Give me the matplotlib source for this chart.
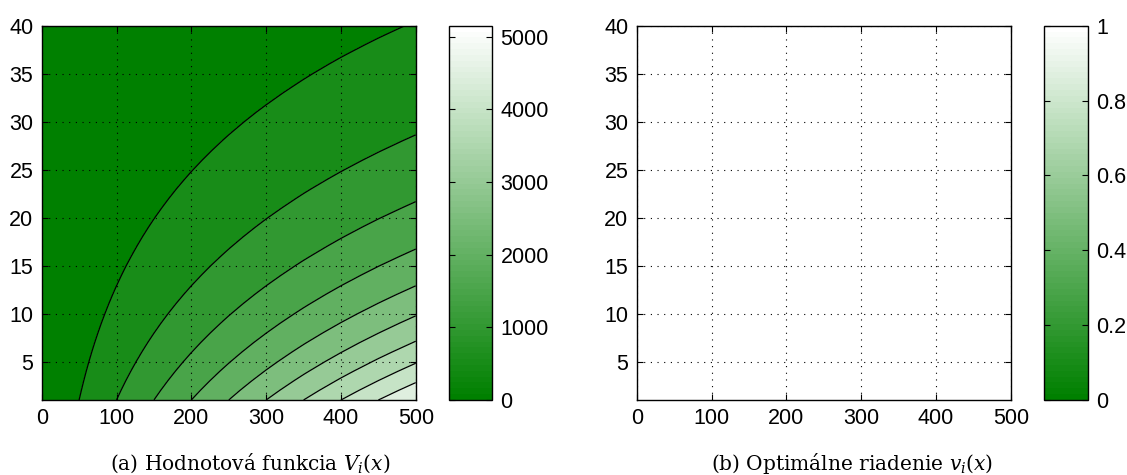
import numpy as np
import matplotlib
matplotlib.use('Agg')
import matplotlib.pyplot as plt
from matplotlib.colors import LinearSegmentedColormap, Normalize
from matplotlib.cm import ScalarMappable

# grid of the state x and the stage index i
x = [0, 50, 100, 150, 200, 250, 300, 350, 400, 450, 500]
stages = list(range(1, 41))

# value function along the first stage (i = 1)
v_first = [0, 500, 1000, 1500, 2000, 2500, 3000, 3500, 4000, 4500, 5000]
# value function at x = 500 for every stage i = 1..40
v_edge = [5000, 4717, 4450, 4198, 3960, 3736, 3525, 3325, 3137, 2959,
          2792, 2634, 2485, 2344, 2212, 2086, 1968, 1857, 1752, 1653,
          1559, 1471, 1388, 1309, 1235, 1165, 1099, 1037, 978, 923,
          871, 821, 775, 731, 690, 651, 614, 579, 546, 515]
# optimal control, equal to 1 on the whole grid
v_control = [1.0] * len(stages)

levels = [0, 500, 1000, 1500, 2000, 2500, 3000, 3500, 4000, 4500, 5000, 5150]
cbar_ticks_a = [0, 1000, 2000, 3000, 4000, 5000]
cbar_ticks_b = [0, 0.2, 0.4, 0.6, 0.8, 1]

# separable surface V[i, x]
V = np.outer(np.array(v_edge) / v_edge[0], np.array(v_first) / v_first[-1] * v_edge[0])
U = np.outer(v_control, np.ones(len(x)))

plt.rcParams['font.family'] = ['Liberation Sans', 'DejaVu Sans']
plt.rcParams['mathtext.fontset'] = 'dejavuserif'

cmap = LinearSegmentedColormap.from_list('greens', [(0, 0.5, 0), (1, 1, 1)], N=64)
norm_a = Normalize(0, 5150)
norm_b = Normalize(0, 1)

fig = plt.figure(figsize=(11.27, 4.75), dpi=100)
ax1 = fig.add_axes([0.0370, 0.1579, 0.3319, 0.7880])
cax1 = fig.add_axes([0.3984, 0.1579, 0.0382, 0.7880])
ax2 = fig.add_axes([0.5650, 0.1579, 0.3319, 0.7880])
cax2 = fig.add_axes([0.9264, 0.1579, 0.0390, 0.7880])

# band colours taken at the lower level of each band
band_colors = [cmap(norm_a(l)) for l in levels[:-1]]
ax1.contourf(x, stages, V, levels=levels, colors=band_colors)
ax1.contour(x, stages, V, levels=levels[1:-1], colors='k', linewidths=0.9)

ax2.pcolormesh(x, stages, U, cmap=cmap, norm=norm_b, shading='gouraud')

for ax in (ax1, ax2):
    ax.set_xlim(0, 500)
    ax.set_ylim(1, 40)
    ax.set_xticks([0, 100, 200, 300, 400, 500])
    ax.set_yticks([5, 10, 15, 20, 25, 30, 35, 40])
    ax.grid(True, color='k', linestyle=(0, (1, 5)), linewidth=0.8)
    ax.tick_params(direction='in', length=4, width=0.8, labelsize=15.5,
                   top=True, right=True, pad=6)
    for s in ax.spines.values():
        s.set_linewidth(1.0)

for cax, norm, ticks in ((cax1, norm_a, cbar_ticks_a), (cax2, norm_b, cbar_ticks_b)):
    cb = fig.colorbar(ScalarMappable(norm=norm, cmap=cmap), cax=cax, ticks=ticks)
    cb.outline.set_linewidth(1.0)
    cax.tick_params(direction='in', length=4, width=0.8, labelsize=15.5,
                    left=True, right=True, pad=6)
cax2.set_yticklabels(['0', '0.2', '0.4', '0.6', '0.8', '1'])

fig.text(250 / 1127, 0.025, r'(a) Hodnotová funkcia $V_i(x)$', ha='center', va='center',
         fontsize=14.5, family='DejaVu Serif')
fig.text(852 / 1127, 0.025, r'(b) Optimálne riadenie $v_i(x)$', ha='center', va='center',
         fontsize=14.5, family='DejaVu Serif')

fig.savefig('out.png', dpi=100)
